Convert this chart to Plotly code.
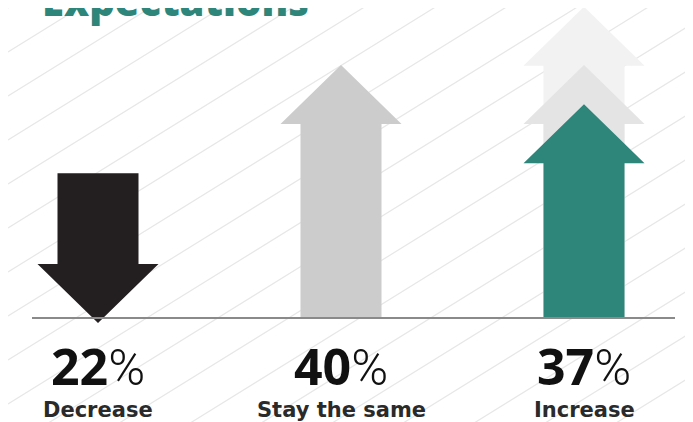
import plotly.graph_objects as go

# ---------------- data ----------------
categories = ["Decrease", "Stay the same", "Increase"]
values = [22, 40, 37]                      # shown percentages
arrow_start = [22.9, 0.0, 0.0]             # drawn arrow tail (axis units)
arrow_end = [-0.8, 40.0, 33.8]             # drawn arrow tip (axis units)
arrow_colors = ["#231f20", "#cccccc", "#2e857a"]
ghost_tips = [49.2, 40.0]                  # faded arrows behind "Increase"
ghost_colors = ["#f2f2f2", "#e4e4e4"]
title_text = "Expectations"

# ---------------- geometry / styling ----------------
W, H = 693, 422
OFF = 8.0             # page body margin compensation
PX_X = 243.0          # pixels per category step
X0_PX = 98.0 - OFF    # figure pixel x of first category
PX_Y = 6.325          # pixels per axis unit
BASE_PX = 318.0 - OFF # figure pixel y of the zero line

x_range = [-X0_PX / PX_X, (W - X0_PX) / PX_X]
y_range = [-(H - BASE_PX) / PX_Y, BASE_PX / PX_Y]

shaft_hw = 40.5 / PX_X
head_hw = 60.5 / PX_X
head_h = 59.0 / PX_Y


def arrow_path(xc, start, end):
    d = 1 if end > start else -1
    neck = end - d * head_h
    xs = [xc - shaft_hw, xc - shaft_hw, xc - head_hw, xc, xc + head_hw,
          xc + shaft_hw, xc + shaft_hw, xc - shaft_hw]
    ys = [start, neck, neck, end, neck, neck, start, start]
    return xs, ys


def py(page_y):
    """page pixel y -> axis units"""
    return (BASE_PX - (page_y - OFF)) / PX_Y


def px(page_x):
    return ((page_x - OFF) - X0_PX) / PX_X


fig = go.Figure()

for tip, col in zip(ghost_tips, ghost_colors):
    xs, ys = arrow_path(2, 0.0, tip)
    fig.add_trace(go.Scatter(x=xs, y=ys, fill="toself", fillcolor=col,
                             mode="lines", line=dict(width=0, color=col),
                             hoverinfo="skip", showlegend=False))

for i, cat in enumerate(categories):
    xs, ys = arrow_path(i, arrow_start[i], arrow_end[i])
    fig.add_trace(go.Scatter(x=xs, y=ys, fill="toself",
                             fillcolor=arrow_colors[i], mode="lines",
                             line=dict(width=0, color=arrow_colors[i]),
                             name=cat, hoverinfo="name", showlegend=False))

shapes = []
slope = 0.62
spacing = 44.0
for k in range(-2, 42):
    y_left = k * spacing
    y_right = y_left - slope * W
    shapes.append(dict(type="line", xref="paper", yref="paper",
                       x0=0, x1=1,
                       y0=1 - y_left / H, y1=1 - y_right / H,
                       line=dict(color="#e7e7e7", width=1.2),
                       layer="below"))
shapes.append(dict(type="line", xref="x", yref="y",
                   x0=px(32), x1=px(675), y0=0, y1=0,
                   line=dict(color="#8a8a8a", width=2), layer="above"))

annotations = []
for i, (cat, v) in enumerate(zip(categories, values)):
    annotations.append(dict(
        x=i, y=py(366), xref="x", yref="y",
        text=(f"<b>{v}</b><span style='font-family:Roboto;"
              f"font-weight:300'>%</span>"),
        showarrow=False, xanchor="center", yanchor="middle",
        font=dict(family="Open Sans", size=50, color="#111111")))
    annotations.append(dict(
        x=i, y=py(410), xref="x", yref="y",
        text=cat, showarrow=False, xanchor="center", yanchor="middle",
        font=dict(family="DejaVu Sans", size=21, color="#2a2a2a",
                  weight=600)))

annotations.append(dict(
    x=(40 - OFF) / W, y=1 - (30 - OFF) / H, xref="paper", yref="paper",
    text=title_text, showarrow=False, xanchor="left", yanchor="bottom",
    font=dict(family="Open Sans", size=40, color="#2e857a", weight=800)))

fig.update_layout(
    width=W, height=H,
    margin=dict(l=0, r=0, t=0, b=0),
    paper_bgcolor="white", plot_bgcolor="white",
    xaxis=dict(range=x_range, visible=False, fixedrange=True),
    yaxis=dict(range=y_range, visible=False, fixedrange=True),
    shapes=shapes, annotations=annotations,
)

fig.write_html("out.html")
